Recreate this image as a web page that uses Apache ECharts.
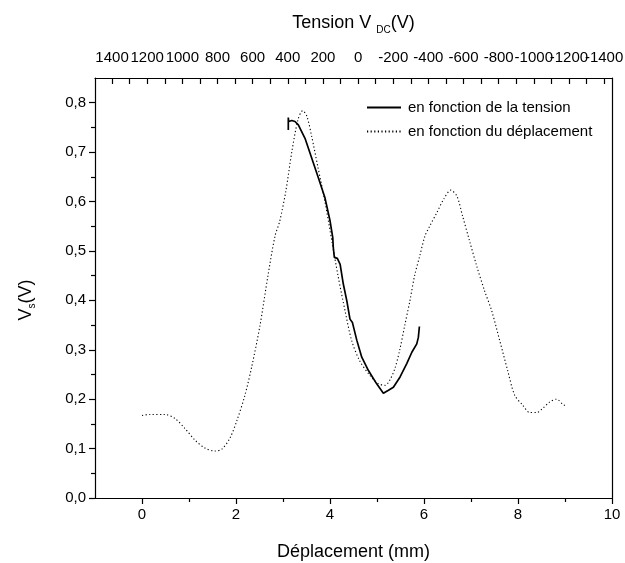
<!DOCTYPE html>
<html>
<head>
<meta charset="utf-8">
<script src="https://cdn.jsdelivr.net/npm/echarts@6/dist/echarts.min.js"></script>
<style>
  html, body { margin: 0; padding: 0; background: #fff; }
  #chart { width: 625px; height: 563px; }
</style>
</head>
<body>
<div id="chart"></div>
<script>
// courbe en fonction du déplacement (mm, axe du bas)
const depX = [0, 0.17, 0.49, 0.70, 0.91, 1.13, 1.34, 1.55, 1.70, 1.87, 2.02, 2.19, 2.34, 2.51, 2.68, 2.83, 2.93, 3.06, 3.19, 3.32, 3.42, 3.51, 3.61, 3.74, 3.89, 4.04, 4.17, 4.32, 4.46, 4.63, 4.85, 5.02, 5.17, 5.27, 5.38, 5.48, 5.59, 5.70, 5.80, 5.91, 6.02, 6.12, 6.27, 6.42, 6.57, 6.70, 6.82, 6.97, 7.12, 7.29, 7.44, 7.61, 7.78, 7.93, 8.10, 8.25, 8.40, 8.52, 8.67, 8.82, 8.95, 9.04]
const depVs = [0.167, 0.169, 0.169, 0.161, 0.141, 0.117, 0.101, 0.095, 0.099, 0.121, 0.157, 0.208, 0.268, 0.349, 0.45, 0.53, 0.56, 0.621, 0.702, 0.766, 0.784, 0.772, 0.732, 0.671, 0.601, 0.52, 0.45, 0.379, 0.319, 0.278, 0.248, 0.232, 0.228, 0.238, 0.262, 0.298, 0.349, 0.399, 0.45, 0.49, 0.53, 0.55, 0.577, 0.605, 0.623, 0.611, 0.571, 0.52, 0.47, 0.419, 0.379, 0.319, 0.258, 0.208, 0.188, 0.173, 0.173, 0.181, 0.194, 0.2, 0.19, 0.185]

// courbe en fonction de la tension (V, axe du haut)
const tensionV = [397, 397, 395, 377, 359, 340, 302, 264, 226, 188, 159, 144, 141, 135, 118, 102, 84, 64, 46, 32, 7, -21, -59, -106, -144, -173, -201, -239, -277, -306, -334, -343, -349]
const tensionVs = [0.745, 0.770, 0.762, 0.764, 0.762, 0.755, 0.728, 0.688, 0.648, 0.607, 0.560, 0.527, 0.507, 0.487, 0.485, 0.473, 0.433, 0.399, 0.362, 0.355, 0.319, 0.285, 0.258, 0.231, 0.212, 0.218, 0.224, 0.245, 0.272, 0.295, 0.312, 0.325, 0.347]

// graduations
const bottomLabels = [0, 2, 4, 6, 8, 10]
const bottomMinor = [1, 3, 5, 7, 9]
// étiquettes du haut, en deux groupes pour qu'aucune ne soit masquée
const topLabelsA = [1400, 1000, 600, 200, -200, -600, -1000, -1400]
const topLabelsB = [1200, 800, 400, 0, -400, -800, -1200]
const topTicks = [1400, 1300, 1200, 1100, 1000, 900, 800, 700, 600, 500, 400, 300, 200, 100, 0, -100, -200, -300, -400, -500, -600, -700, -800, -900, -1000, -1100, -1200, -1300, -1400]
const leftLabels = [0, 0.1, 0.2, 0.3, 0.4, 0.5, 0.6, 0.7, 0.8]
const leftMinor = [0.05, 0.15, 0.25, 0.35, 0.45, 0.55, 0.65, 0.75]

const font = 'Liberation Sans'
const black = '#000'

const chart = echarts.init(document.getElementById('chart'), null, { renderer: 'canvas' })

const zip = (a, b) => a.map((v, i) => [v, b[i]])

const topLabelStyle = {
  showMinLabel: true,
  showMaxLabel: true,
  hideOverlap: false,
  fontSize: 15,
  color: black,
  fontFamily: font,
  margin: 13,
  formatter: (v) => String(v)
}

const option = {
  animation: false,
  backgroundColor: '#fff',
  textStyle: { fontFamily: font, color: black },
  grid: { left: 95, right: 13, top: 78, bottom: 65, containLabel: false, outerBoundsMode: 'none' },
  legend: {
    orient: 'vertical',
    left: 361,
    top: 95,
    itemWidth: 34,
    itemHeight: 10,
    itemGap: 9,
    itemStyle: { opacity: 0 },
    textStyle: { fontFamily: font, fontSize: 15, color: black, padding: [0, 0, 0, 2] },
    data: ['en fonction de la tension', 'en fonction du déplacement']
  },
  xAxis: [
    {
      type: 'value',
      position: 'bottom',
      min: -1,
      max: 10,
      interval: 1,
      splitLine: { show: false },
      axisLine: { onZero: false, lineStyle: { color: black, width: 1.2 } },
      axisTick: { customValues: bottomLabels, length: 6, lineStyle: { color: black, width: 1.2 } },
      axisLabel: { customValues: bottomLabels, fontSize: 15, color: black, fontFamily: font, margin: 9 },
      name: 'Déplacement (mm)',
      nameLocation: 'middle',
      nameGap: 45,
      nameTextStyle: { fontSize: 18, color: black, fontFamily: font }
    },
    {
      type: 'value',
      position: 'top',
      min: -1445,
      max: 1497,
      inverse: true,
      splitLine: { show: false },
      axisLine: { onZero: false, lineStyle: { color: black, width: 1.2 } },
      axisTick: { inside: true, customValues: topTicks, length: 6, lineStyle: { color: black, width: 1.2 } },
      axisLabel: Object.assign({ customValues: topLabelsA }, topLabelStyle),
      name: 'Tension V {sub|DC}(V)',
      nameLocation: 'middle',
      nameGap: 43,
      nameTextStyle: {
        fontSize: 18,
        color: black,
        fontFamily: font,
        rich: { sub: { fontSize: 10, fontFamily: font, color: black, padding: [14, 0, 0, 0] } }
      }
    },
    {
      // petites graduations du bas
      type: 'value',
      position: 'bottom',
      offset: 0,
      min: -1,
      max: 10,
      splitLine: { show: false },
      axisLine: { show: false, onZero: false },
      axisTick: { customValues: bottomMinor, length: 4, lineStyle: { color: black, width: 1.2 } },
      axisLabel: { show: false }
    },
    {
      // second groupe d'étiquettes du haut
      type: 'value',
      position: 'top',
      offset: 0,
      min: -1445,
      max: 1497,
      inverse: true,
      splitLine: { show: false },
      axisLine: { show: false, onZero: false },
      axisTick: { show: false },
      axisLabel: Object.assign({ customValues: topLabelsB }, topLabelStyle)
    }
  ],
  yAxis: [
    {
      type: 'value',
      position: 'left',
      min: 0,
      max: 0.85,
      splitLine: { show: false },
      axisLine: { show: true, onZero: false, lineStyle: { color: black, width: 1.2 } },
      axisTick: { show: true, customValues: leftLabels, length: 6, lineStyle: { color: black, width: 1.2 } },
      axisLabel: {
        customValues: leftLabels,
        fontSize: 15,
        color: black,
        fontFamily: font,
        margin: 9,
        formatter: (v) => v.toFixed(1).replace('.', ',')
      },
      name: 'V{sub|s}(V)',
      nameLocation: 'middle',
      nameGap: 58,
      nameRotate: 90,
      nameTextStyle: {
        fontSize: 18,
        color: black,
        fontFamily: font,
        padding: [0, 24, 0, 0],
        rich: { sub: { fontSize: 10, fontFamily: font, color: black, padding: [12, 0, 0, 0] } }
      }
    },
    {
      // petites graduations de gauche
      type: 'value',
      position: 'left',
      offset: 0,
      min: 0,
      max: 0.85,
      splitLine: { show: false },
      axisLine: { show: false, onZero: false },
      axisTick: { show: true, customValues: leftMinor, length: 4, lineStyle: { color: black, width: 1.2 } },
      axisLabel: { show: false }
    },
    {
      // cadre de droite
      type: 'value',
      position: 'right',
      min: 0,
      max: 0.85,
      splitLine: { show: false },
      axisLine: { show: true, onZero: false, lineStyle: { color: black, width: 1.2 } },
      axisTick: { show: false },
      axisLabel: { show: false }
    }
  ],
  series: [
    {
      name: 'en fonction de la tension',
      type: 'line',
      xAxisIndex: 1,
      yAxisIndex: 0,
      symbol: 'none',
      itemStyle: { color: black },
      lineStyle: { color: black, width: 1.7 },
      data: zip(tensionV, tensionVs)
    },
    {
      name: 'en fonction du déplacement',
      type: 'line',
      xAxisIndex: 0,
      yAxisIndex: 0,
      symbol: 'none',
      smooth: 0.3,
      itemStyle: { color: black },
      lineStyle: { color: black, width: 1.1, type: [1.2, 2.4] },
      data: zip(depX, depVs)
    }
  ]
}

chart.setOption(option)
</script>
</body>
</html>
